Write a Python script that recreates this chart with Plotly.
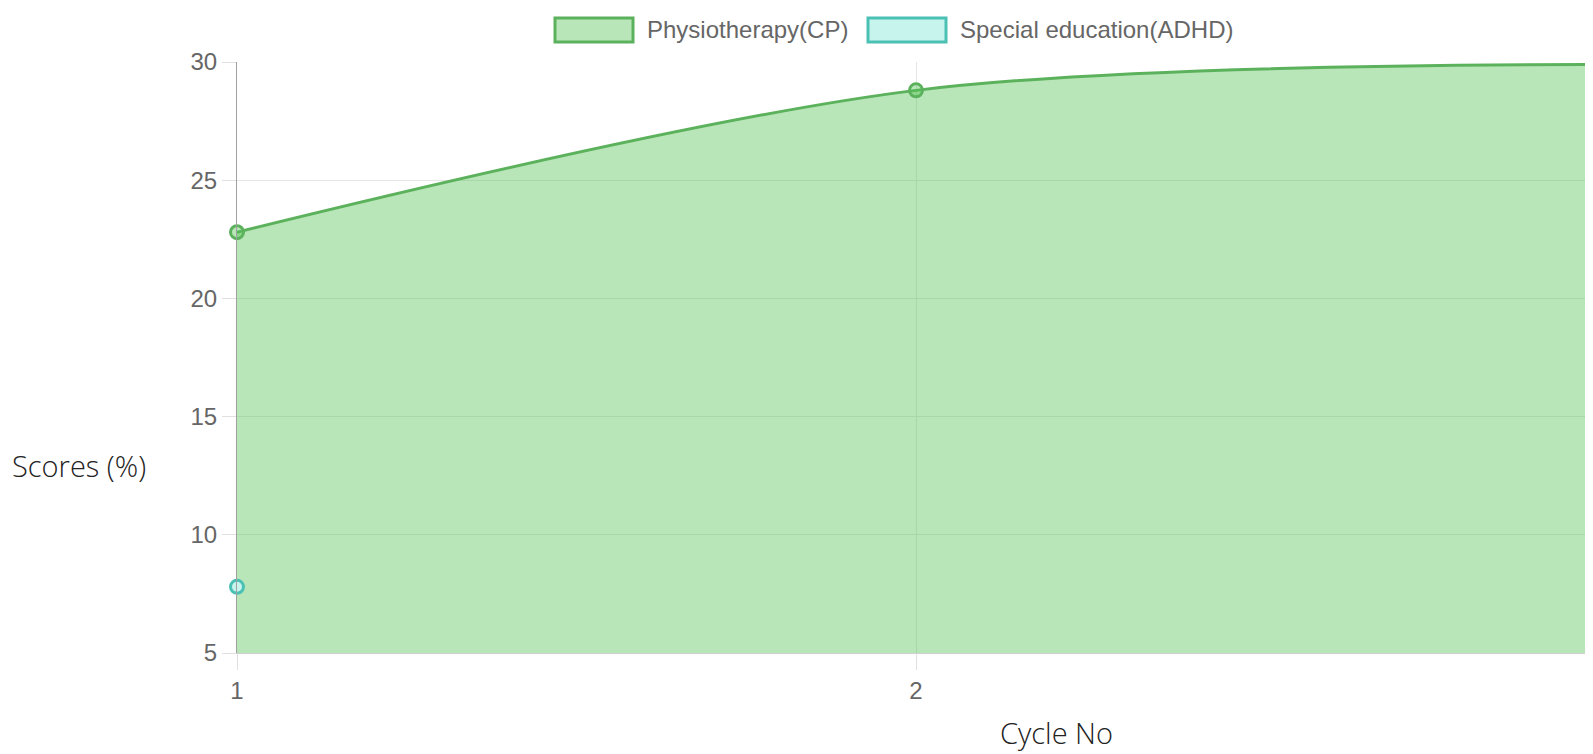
import plotly.graph_objects as go

cycles = [1, 2, 3]
physio_cp = [22.8, 28.8, 29.9]
adhd_cycles = [1]
special_ed_adhd = [7.8]
y_ticks = [5, 10, 15, 20, 25, 30]
x_ticks = [1, 2, 3]
series_names = ["Physiotherapy(CP)", "Special education(ADHD)"]

OFF = 8  # page body margin
W, H = 1593, 746
L, R, T, B = 229, 6, 54, 101
PW, PH = W - L - R, H - T - B

def px(x):  # page x -> paper fraction
    return (x - OFF - L) / PW

def py(y):  # page y -> paper fraction
    return (H - B - (y - OFF)) / PH

green_line = "rgb(92,178,92)"
green_fill = "rgba(78,192,78,0.4)"
teal_line = "rgb(75,192,180)"

fig = go.Figure()
fig.add_trace(go.Scatter(
    x=cycles, y=physio_cp, mode="lines+markers", name=series_names[0],
    line=dict(color=green_line, width=3, shape="spline", smoothing=0.9),
    fill="tozeroy", fillcolor=green_fill,
    marker=dict(size=13, color="rgba(78,192,78,0.4)", line=dict(color=green_line, width=3)),
    cliponaxis=False, showlegend=False,
))
fig.add_trace(go.Scatter(
    x=adhd_cycles, y=special_ed_adhd, mode="markers", name=series_names[1],
    marker=dict(size=13, color="rgba(200,244,238,1)", line=dict(color=teal_line, width=3)),
    cliponaxis=False, showlegend=False,
))

tick_font = dict(family="Liberation Sans, Arial", size=24, color="#666")
fig.update_xaxes(
    range=[1, 3], tickvals=x_ticks, showgrid=True, gridcolor="#e6e6e6", gridwidth=1,
    zeroline=False, showline=True, linecolor="#d0d0d0", linewidth=1,
    ticks="outside", ticklen=16, tickcolor="#e0e0e0", tickfont=tick_font,
    automargin=False,
)
fig.update_yaxes(
    range=[5, 30], tickvals=y_ticks, showgrid=True, gridcolor="#e6e6e6", gridwidth=1,
    zeroline=False, showline=True, linecolor="#a0a0a0", linewidth=1,
    ticks="outside", ticklen=14, tickcolor="#e0e0e0", tickfont=tick_font,
    automargin=False,
)

shapes = [
    dict(type="rect", xref="paper", yref="paper",
         x0=px(555), x1=px(633), y0=py(42), y1=py(18),
         line=dict(color=green_line, width=3), fillcolor="rgb(184,230,184)"),
    dict(type="rect", xref="paper", yref="paper",
         x0=px(868), x1=px(946), y0=py(42), y1=py(18),
         line=dict(color=teal_line, width=3), fillcolor="rgb(200,244,238)"),
]
legend_font = dict(family="Liberation Sans, Arial", size=24, color="#666")
title_font = dict(family="Open Sans", size=29, color="#222", weight=300)
annotations = [
    dict(text=series_names[0], xref="paper", yref="paper", x=px(645), y=py(30),
         xanchor="left", yanchor="middle", showarrow=False, font=legend_font),
    dict(text=series_names[1], xref="paper", yref="paper", x=px(958), y=py(30),
         xanchor="left", yanchor="middle", showarrow=False, font=legend_font),
    dict(text="Scores (%)", xref="paper", yref="paper", x=px(79), y=py(465),
         xanchor="center", yanchor="middle", showarrow=False, font=title_font),
    dict(text="Cycle No", xref="paper", yref="paper", x=px(1056), y=py(753),
         xanchor="center", yanchor="bottom", showarrow=False, font=title_font,
         borderpad=0),
]

fig.update_layout(
    width=W, height=H, margin=dict(l=L, r=R, t=T, b=B, autoexpand=False),
    plot_bgcolor="white", paper_bgcolor="white",
    shapes=shapes, annotations=annotations, showlegend=False,
)
fig.write_html("out.html")
